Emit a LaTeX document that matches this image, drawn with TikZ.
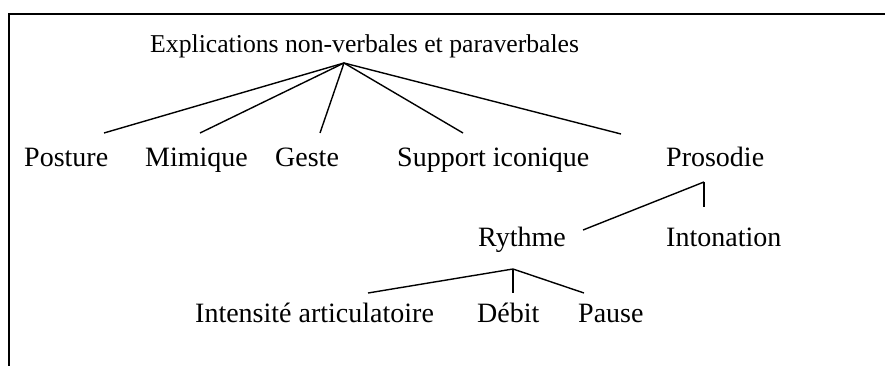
\documentclass[tikz,border=0pt]{standalone}
\usepackage{fontspec}
\setmainfont{Liberation Serif}
\begin{document}
\begin{tikzpicture}[x=1pt,y=-1pt,
  lbl/.style={anchor=base west,inner sep=0pt,font=\fontsize{28}{32}\selectfont},
  ttl/.style={anchor=base west,inner sep=0pt,font=\fontsize{25.7}{30}\selectfont},
  conn/.style={line width=1.4pt},
  frame/.style={line width=1.6pt}]
\useasboundingbox (0,0) rectangle (885,366);
% frame
\coordinate (fl) at (9,366);
\coordinate (fc) at (9,14);
\coordinate (fr) at (885,14);
\draw[frame] (fl) -- (fc) -- (fr);
% labels
\node[ttl] (title) at (150,53) {Explications non-verbales et paraverbales};
\node[lbl] (posture) at (24,167) {Posture};
\node[lbl] (mimique) at (145,167) {Mimique};
\node[lbl] (geste) at (275,167) {Geste};
\node[lbl] (support) at (397,167) {Support iconique};
\node[lbl] (prosodie) at (666,167) {Prosodie};
\node[lbl] (rythme) at (478,246) {Rythme};
\node[lbl] (intonation) at (666,246) {Intonation};
\node[lbl] (intensite) at (195,322) {Intensité articulatoire};
\node[lbl] (debit) at (477,322) {Débit};
\node[lbl] (pause) at (578,322) {Pause};
% connector points
\coordinate (apT) at (344,63);
\coordinate (ePos) at (104,133);
\coordinate (eMim) at (200,133);
\coordinate (eGes) at (320,133);
\coordinate (eSup) at (463,133);
\coordinate (ePro) at (621,134);
\coordinate (apP) at (704,182);
\coordinate (eRyt) at (583,230);
\coordinate (eInt) at (704,207);
\coordinate (apR) at (513,269);
\coordinate (eIns) at (368,293);
\coordinate (eDeb) at (513,293);
\coordinate (ePau) at (584,293);
% connectors
\draw[conn] (apT) -- (ePos);
\draw[conn] (apT) -- (eMim);
\draw[conn] (apT) -- (eGes);
\draw[conn] (apT) -- (eSup);
\draw[conn] (apT) -- (ePro);
\draw[conn] (apP) -- (eRyt);
\draw[conn] (apP) -- (eInt);
\draw[conn] (apR) -- (eIns);
\draw[conn] (apR) -- (eDeb);
\draw[conn] (apR) -- (ePau);
\end{tikzpicture}
\end{document}
